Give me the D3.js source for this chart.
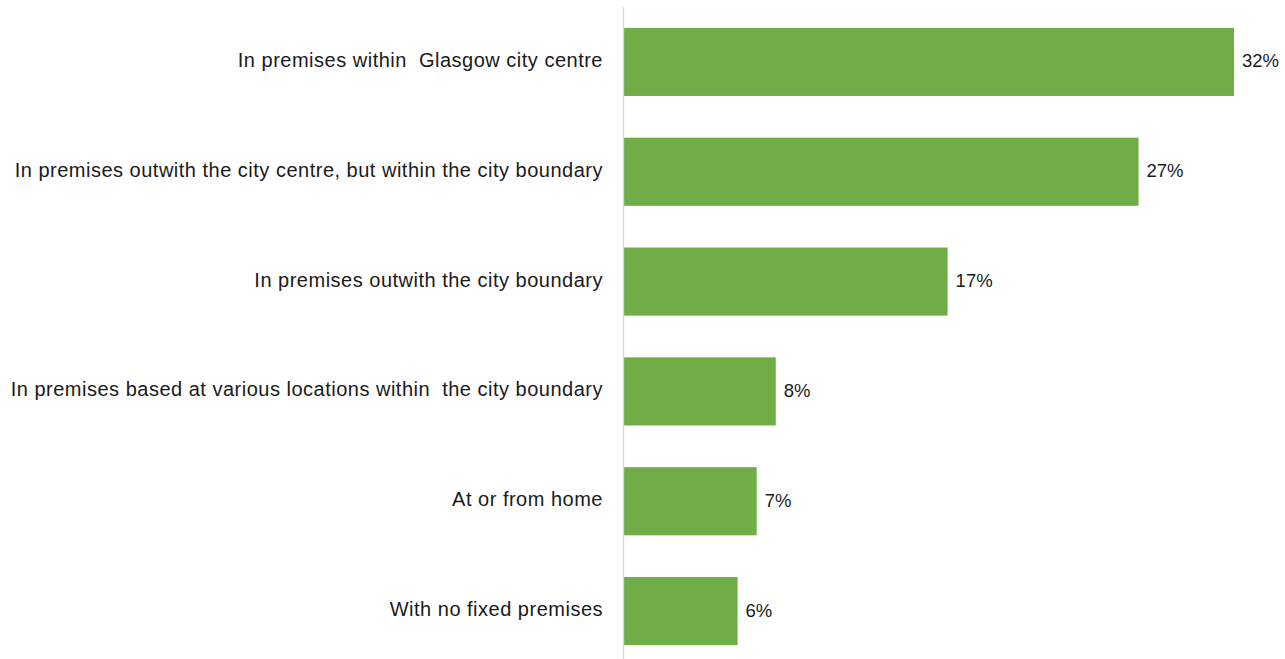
<!DOCTYPE html>
<html>
<head>
<meta charset="utf-8">
<script src="https://cdn.jsdelivr.net/npm/d3@7"></script>
<style>
  html, body { margin: 0; padding: 0; background: #ffffff; }
  svg { display: block; }
  text { font-family: "Liberation Sans", Arial, sans-serif; fill: #1a1a1a; }
</style>
</head>
<body>
<svg id="chart" width="1285" height="659"></svg>
<script>
// Where businesses are based (share of respondents, %)
const categories = [
  "In premises within  Glasgow city centre",
  "In premises outwith the city centre, but within the city boundary",
  "In premises outwith the city boundary",
  "In premises based at various locations within  the city boundary",
  "At or from home",
  "With no fixed premises"
];
const values = [32, 27, 17, 8, 7, 6];
const valueLabels = ["32%", "27%", "17%", "8%", "7%", "6%"];

const svg = d3.select("#chart");
const height = 659;
const axisX = 623;

const x = d3.scaleLinear().domain([0, 32]).range([axisX, 1234]);
const y = d3.scaleBand()
  .domain(categories)
  .range([7, 666])
  .paddingInner(0.38)
  .paddingOuter(0.19);

// bars
svg.append("g")
  .selectAll("rect")
  .data(values)
  .join("rect")
  .attr("x", x(0))
  .attr("y", (d, i) => y(categories[i]))
  .attr("width", d => x(d) - x(0))
  .attr("height", y.bandwidth())
  .attr("fill", "#70ad47");

// vertical category axis line
svg.append("line")
  .attr("x1", x(0) + 0.5).attr("x2", x(0) + 0.5)
  .attr("y1", 7).attr("y2", height)
  .attr("stroke", "#d9d9d9")
  .attr("stroke-width", 1.3);

// category labels
svg.append("g")
  .selectAll("text")
  .data(categories)
  .join("text")
  .attr("x", x(0) - 20)
  .attr("y", d => y(d) + y.bandwidth() / 2 - 2)
  .attr("text-anchor", "end")
  .attr("dominant-baseline", "central")
  .attr("font-size", 20)
  .attr("letter-spacing", 0.5)
  .style("white-space", "pre")
  .text(d => d);

// value labels
svg.append("g")
  .selectAll("text")
  .data(values)
  .join("text")
  .attr("x", d => x(d) + 8)
  .attr("y", (d, i) => y(categories[i]) + y.bandwidth() / 2 - 1)
  .attr("dominant-baseline", "central")
  .attr("font-size", 18.5)
  .text((d, i) => valueLabels[i]);
</script>
</body>
</html>
